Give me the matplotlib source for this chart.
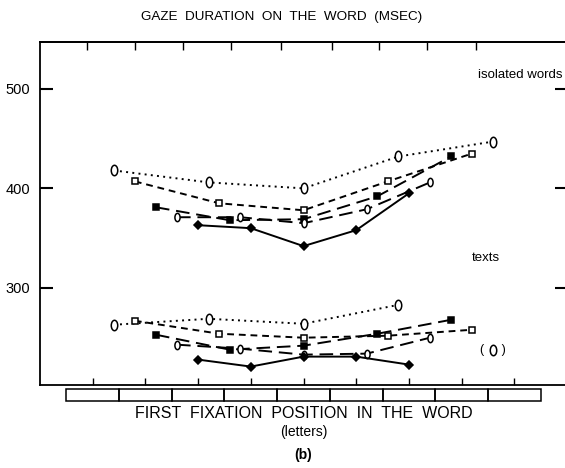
import matplotlib
matplotlib.use("Agg")
import matplotlib.pyplot as plt
from matplotlib.path import Path
from matplotlib.transforms import Affine2D, blended_transform_factory
from matplotlib.patches import Rectangle

plt.rcParams['font.family'] = ['Liberation Sans', 'DejaVu Sans']

# ---- data (first fixation position, letters; gaze duration, msec) ----
x_circle = [1.4, 3.2, 5.0, 6.8, 8.6]
x_square = [1.8, 3.4, 5.0, 6.6, 8.2]
x_fsquare = [2.2, 3.6, 5.0, 6.4, 7.8]
x_odiam = [2.6, 3.8, 5.0, 6.2, 7.4]
x_fdiam = [3.0, 4.0, 5.0, 6.0, 7.0]

iso_circle = [418, 406, 400, 432, 447]
iso_square = [407, 385, 378, 407, 435]
iso_fsquare = [381, 368, 369, 392, 432]
iso_odiam = [371, 371, 365, 379, 406]
iso_fdiam = [363, 360, 342, 358, 395]

txt_circle = [263, 269, 264, 283]
txt_circle_paren = 238
txt_square = [267, 254, 250, 252, 258]
txt_fsquare = [253, 238, 242, 254, 268]
txt_odiam = [243, 239, 233, 234, 250]
txt_fdiam = [228, 221, 231, 231, 223]

yticks = [300, 400, 500]
bottom_ticks = [1, 2, 3, 4, 5, 6, 7, 8, 9]
top_ticks = [0.9, 1.81, 2.72, 3.63, 4.58, 5.54, 6.44, 7.35, 8.28]

W, H = 565, 468
fig = plt.figure(figsize=(W / 100, H / 100), dpi=100)
ax = fig.add_axes([40 / W, 1 - 385 / H, 527 / W, 343 / H])
ax.set_xlim(0, 10)
ax.set_ylim(202.5, 547)

ellipse = Path.unit_circle().transformed(Affine2D().scale(0.62, 1.0))

styles = [
    (x_circle, dict(ls=(0, (1, 2.2)), marker=ellipse, ms=7.5, mfc='white')),
    (x_square, dict(ls=(0, (3.5, 2.5)), marker='s', ms=4.5, mfc='white')),
    (x_fsquare, dict(ls=(0, (7, 3.5)), marker='s', ms=4.5, mfc='black')),
    (x_odiam, dict(ls=(0, (7, 3.5)), marker=ellipse, ms=6, mfc='white')),
    (x_fdiam, dict(ls='-', marker='D', ms=4.5, mfc='black')),
]
iso = [iso_circle, iso_square, iso_fsquare, iso_odiam, iso_fdiam]
txt = [txt_circle, txt_square, txt_fsquare, txt_odiam, txt_fdiam]

for (xs, st), yv in zip(styles, iso):
    ax.plot(xs[:len(yv)], yv, color='black', lw=1.4, mec='black', mew=1.1, **st)
for (xs, st), yv in zip(styles, txt):
    ax.plot(xs[:len(yv)], yv, color='black', lw=1.4, mec='black', mew=1.1, **st)

# isolated point in parentheses
ax.plot([x_circle[4]], [txt_circle_paren], ls='none', marker=ellipse, ms=7.5,
        mfc='white', mec='black', mew=1.1)
ax.text(x_circle[4], txt_circle_paren, '(     )', ha='center', va='center', fontsize=9)

# spines / ticks
ax.spines['right'].set_visible(False)
for s in ['left', 'top', 'bottom']:
    ax.spines[s].set_linewidth(1.3)
ax.set_yticks(yticks)
ax.set_yticklabels([str(v) for v in yticks], fontsize=10.5)
ax.tick_params(axis='y', direction='in', length=9, width=1.5, pad=7, right=True)
ax.set_xticks(bottom_ticks)
ax.set_xticklabels([])
ax.tick_params(axis='x', direction='in', length=5, width=1.0, bottom=True, top=False)

ax_top = ax.secondary_xaxis('top')
ax_top.set_xticks(top_ticks)
ax_top.set_xticklabels([])
ax_top.tick_params(direction='in', length=6, width=1.0)
ax_top.spines['top'].set_linewidth(1.3)

# letter-box strip under the axis
tr = blended_transform_factory(ax.transData, ax.transAxes)
for i in bottom_ticks:
    ax.add_patch(Rectangle((i - 0.5, -0.046), 1.0, 0.034, transform=tr, fill=False,
                           ec='black', lw=1.1, clip_on=False))

# texts
fig.text(282 / W, 1 - 17 / H, 'GAZE  DURATION  ON  THE  WORD  (MSEC)', ha='center', va='center', fontsize=9.7)
fig.text(563 / W, 1 - 75 / H, 'isolated words', ha='right', va='center', fontsize=9.5)
fig.text(486 / W, 1 - 258 / H, 'texts', ha='center', va='center', fontsize=9.5)
fig.text(304 / W, 1 - 413 / H, 'FIRST  FIXATION  POSITION  IN  THE  WORD', ha='center', va='center', fontsize=11.5)
fig.text(304 / W, 1 - 432 / H, '(letters)', ha='center', va='center', fontsize=10)
fig.text(303 / W, 1 - 455 / H, '(b)', ha='center', va='center', fontsize=10, fontweight='bold')

fig.savefig('out.png', dpi=100)
